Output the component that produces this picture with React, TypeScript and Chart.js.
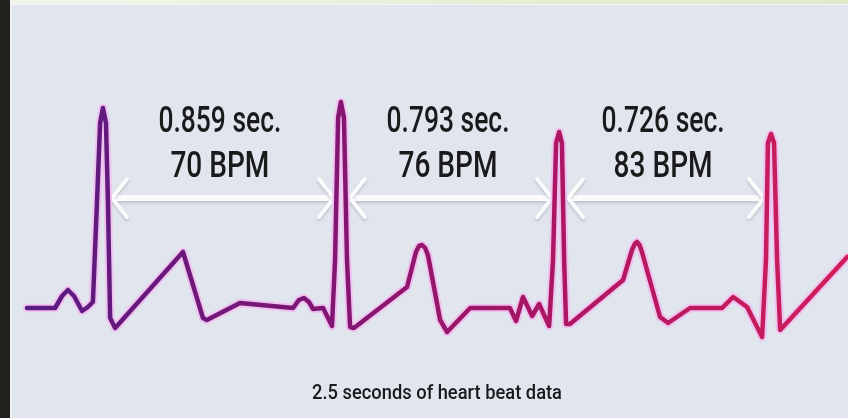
import React, { useEffect, useRef } from "react";
import { Chart, registerables } from "chart.js";

Chart.register(...registerables);

// ECG trace: time (s) and amplitude (arbitrary units)
const ecgTime = [
  0.0, 0.101, 0.126, 0.147, 0.169, 0.198, 0.219, 0.237, 0.252, 0.263, 0.273, 0.284, 0.291, 0.299, 0.317,
  0.561, 0.597, 0.633, 0.647, 0.766, 0.957, 0.978, 0.996, 1.014, 1.029, 1.065, 1.097,
  1.108, 1.119, 1.129, 1.14, 1.151, 1.162, 1.176,
  1.367, 1.399, 1.41, 1.421, 1.432, 1.442, 1.486, 1.511, 1.594, 1.737, 1.759, 1.784, 1.817, 1.842, 1.878,
  1.892, 1.903, 1.914, 1.924, 1.932, 1.939, 1.953,
  2.144, 2.176, 2.186, 2.194, 2.203, 2.212, 2.277, 2.306, 2.385, 2.5, 2.54, 2.59, 2.644,
  2.658, 2.665, 2.676, 2.687, 2.698, 2.709, 2.95,
];
const ecgValue = [
  0, 0, 0.12, 0.18, 0.12, -0.03, 0.01, 0.06, 1.08, 1.85, 2.0, 1.85, 1.08, -0.1, -0.2,
  0.56, 0.23, -0.1, -0.12, 0.05, 0, 0.08, 0.1, 0.06, -0.01, 0, -0.18,
  0.48, 1.9, 2.06, 1.9, 0.48, -0.19, -0.2,
  0.21, 0.56, 0.62, 0.63, 0.6, 0.53, -0.12, -0.24, 0, 0, -0.13, 0.11, -0.08, 0.04, -0.18,
  0.48, 1.65, 1.76, 1.65, 0.48, -0.16, -0.16,
  0.28, 0.58, 0.64, 0.66, 0.63, 0.56, -0.09, -0.15, 0, 0, 0.11, 0.01, -0.29,
  0.48, 1.65, 1.74, 1.65, 0.48, -0.22, 0.51,
];

// R-peak times and interval annotations
const rPeakTimes = [0.273, 1.129, 1.914, 2.676];
const intervalLabels = ["0.859 sec.", "0.793 sec.", "0.726 sec."];
const bpmLabels = ["70 BPM", "76 BPM", "83 BPM"];
const captionText = "2.5 seconds of heart beat data";

const X_MIN = -0.054;
const X_MAX = 2.953;
const Y_MIN = -1.1;
const Y_MAX = 3.03;
const ARROW_LEVEL = 1.1;

function drawCondensed(ctx: CanvasRenderingContext2D, text: string, cx: number, baseline: number, size: number, targetW: number, weight: number) {
  ctx.save();
  ctx.font = `${weight} ${size}px Roboto, "Noto Sans", sans-serif`;
  const w = ctx.measureText(text).width;
  const s = targetW / w;
  ctx.translate(cx, baseline);
  ctx.scale(s, 1);
  ctx.textAlign = "center";
  ctx.textBaseline = "alphabetic";
  ctx.fillStyle = "#1a1a1c";
  ctx.fillText(text, 0, 0);
  ctx.restore();
}

const annotationPlugin = {
  id: "ecgAnnotations",
  beforeDatasetsDraw(chart: any) {
    const { ctx, scales } = chart;
    const xs = scales.x;
    const ys = scales.y;
    const y = ys.getPixelForValue(ARROW_LEVEL);
    for (let i = 0; i < rPeakTimes.length - 1; i++) {
      const x1 = xs.getPixelForValue(rPeakTimes[i]) + 9;
      const x2 = xs.getPixelForValue(rPeakTimes[i + 1]) - 7;
      ctx.save();
      ctx.shadowColor = "rgba(120,125,140,0.35)";
      ctx.shadowBlur = 3;
      ctx.shadowOffsetY = 2;
      ctx.strokeStyle = "#fbfbfc";
      ctx.lineCap = "round";
      ctx.lineJoin = "round";
      ctx.lineWidth = 6;
      ctx.beginPath();
      ctx.moveTo(x1 + 2, y);
      ctx.lineTo(x2 - 2, y);
      ctx.stroke();
      ctx.lineWidth = 4;
      ctx.beginPath();
      ctx.moveTo(x1 + 15, y - 19);
      ctx.lineTo(x1, y);
      ctx.lineTo(x1 + 15, y + 19);
      ctx.stroke();
      ctx.beginPath();
      ctx.moveTo(x2 - 15, y - 19);
      ctx.lineTo(x2, y);
      ctx.lineTo(x2 - 15, y + 19);
      ctx.stroke();
      ctx.restore();
    }
  },
  afterDraw(chart: any) {
    const { ctx, scales } = chart;
    const xs = scales.x;
    const top = chart.chartArea.top;
    for (let i = 0; i < intervalLabels.length; i++) {
      const cx = (xs.getPixelForValue(rPeakTimes[i]) + xs.getPixelForValue(rPeakTimes[i + 1])) / 2 - 2;
      drawCondensed(ctx, intervalLabels[i], cx, top + 127, 36, 123, 500);
      drawCondensed(ctx, bpmLabels[i], cx, top + 172, 36, 99, 500);
    }
    drawCondensed(ctx, captionText, 425, top + 394, 21, 250, 500);
  },
};

export default function App() {
  const ref = useRef<HTMLCanvasElement | null>(null);
  useEffect(() => {
    if (!ref.current) return;
    const glowPoints = ecgTime.map((t, i) => ({ x: t, y: ecgValue[i] }));
    const linePoints = ecgTime.map((t, i) => ({ x: t, y: ecgValue[i] }));
    const chart = new Chart(ref.current, {
      type: "line",
      data: {
        datasets: [
          {
            data: linePoints,
            order: 1,
            borderColor: (c: any) => {
              const ch = c.chart;
              const area = ch.chartArea;
              if (!area) return "#7a1a78";
              const g = ch.ctx.createLinearGradient(area.left, 0, area.right, 0);
              g.addColorStop(0, "rgb(86,28,130)");
              g.addColorStop(0.35, "rgb(124,22,116)");
              g.addColorStop(0.65, "rgb(172,22,98)");
              g.addColorStop(1, "rgb(208,30,90)");
              return g;
            },
            borderWidth: 4.5,
            pointRadius: 0,
            tension: 0,
            borderJoinStyle: "round",
            borderCapStyle: "round",
            fill: false,
          },
          {
            data: glowPoints,
            order: 2,
            borderColor: "rgba(242,190,238,0.9)",
            borderWidth: 8.5,
            pointRadius: 0,
            tension: 0,
            borderJoinStyle: "round",
            borderCapStyle: "round",
            fill: false,
          },
        ],
      },
      options: {
        animation: false,
        responsive: false,
        maintainAspectRatio: false,
        layout: { padding: 0 },
        plugins: { legend: { display: false }, tooltip: { enabled: false }, title: { display: false } },
        scales: {
          x: { type: "linear", min: X_MIN, max: X_MAX, display: false },
          y: { type: "linear", min: Y_MIN, max: Y_MAX, display: false },
        },
      },
      plugins: [annotationPlugin],
    });
    return () => chart.destroy();
  }, []);

  return (
    <div style={{ position: "fixed", left: 0, top: 0, width: 848, height: 418, overflow: "hidden", background: "#e1e6ee" }}>
      <div style={{ position: "absolute", left: 0, top: 0, width: 848, height: 4, background: "linear-gradient(90deg,#f3f5ec,#e9eed8 50%,#e2eac8)" }} />
      <div style={{ position: "absolute", left: 0, top: 4, width: 848, height: 1, background: "#f4f6f4" }} />
      <div style={{ position: "absolute", left: 10, top: 0, width: 2, height: 418, background: "#eef0f2" }} />
      <div style={{ position: "absolute", left: 0, top: 0, width: 10, height: 418, background: "#23211d" }} />
      <canvas ref={ref} width={836} height={413} style={{ position: "absolute", left: 12, top: 5, width: 836, height: 413 }} />
    </div>
  );
}
